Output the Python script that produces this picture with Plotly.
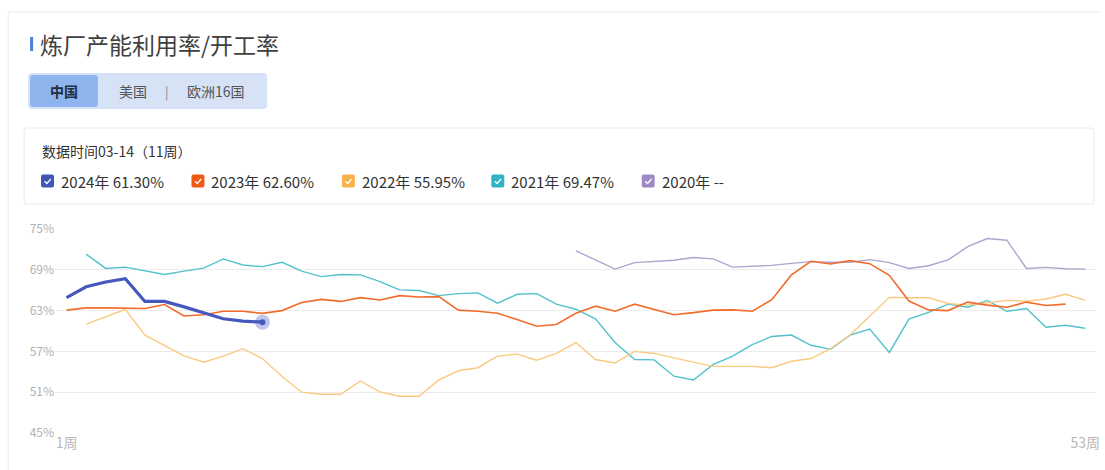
import plotly.graph_objects as go

weeks_all = list(range(1, 54))

y2024 = [64.9, 66.5, 67.2, 67.7, 64.35, 64.35, 63.55, 62.7, 61.8, 61.45, 61.30]

y2023 = [63.07, 63.4, 63.4, 63.4, 63.3, 63.9, 62.2, 62.4, 62.9, 62.9, 62.60,
         63.0, 64.2, 64.65, 64.35, 64.9, 64.55, 65.2, 65.0, 65.05, 63.07,
         62.9, 62.6, 61.7, 60.7, 60.96, 62.6, 63.65, 62.9, 63.95, 63.2,
         62.4, 62.7, 63.07, 63.1, 62.9, 64.6, 68.25, 70.25, 69.85, 70.35,
         69.9, 68.2, 64.4, 63.1, 63.0, 64.25, 63.8, 63.5, 64.25, 63.75, 63.95]

y2022 = [None, 61.0, 62.1, 63.2, 59.4, 57.9, 56.35, 55.4, 56.3, 57.4, 55.95,
         53.3, 51.0, 50.7, 50.7, 52.65, 51.05, 50.4, 50.4, 52.8, 54.15,
         54.6, 56.3, 56.6, 55.7, 56.7, 58.3, 55.8, 55.3, 57.0, 56.7,
         56.05, 55.45, 54.8, 54.8, 54.8, 54.6, 55.55, 55.95, 57.4, 59.4,
         62.2, 64.95, 64.9, 64.9, 64.05, 63.8, 64.15, 64.5, 64.4, 64.7, 65.4, 64.5]

y2021 = [None, 71.3, 69.2, 69.4, 68.8, 68.3, 68.8, 69.25, 70.6, 69.7, 69.47,
         70.1, 68.8, 68.0, 68.3, 68.25, 67.25, 66.05, 65.95, 65.2, 65.5,
         65.6, 64.1, 65.4, 65.5, 63.95, 63.2, 61.8, 58.3, 55.8, 55.75,
         53.35, 52.8, 55.05, 56.3, 58.0, 59.2, 59.4, 57.9, 57.3, 59.4,
         60.3, 56.85, 61.75, 62.75, 63.95, 63.5, 64.5, 62.9, 63.3, 60.55, 60.85, 60.4]

y2020 = [None] * 26 + [71.8, 70.45, 69.1, 70.05, 70.2, 70.4, 70.8, 70.6, 69.4,
                       69.5, 69.65, 69.95, 70.2, 70.1, 70.1, 70.5, 70.05, 69.2,
                       69.6, 70.45, 72.4, 73.6, 73.35, 69.2, 69.35, 69.15, 69.1]

series_names = ["2024年", "2023年", "2022年", "2021年", "2020年"]
legend_values = ["61.30%", "62.60%", "55.95%", "69.47%", "--"]
line_colors = ["#4559bd", "#f26c2c", "#fac97f", "#52c2ca", "#aea4cc"]
box_colors = ["#3f56b6", "#f15a16", "#f8b24c", "#30b3c4", "#9c89c6"]
line_widths = [3.2, 1.6, 1.4, 1.4, 1.4]

y_ticks = [45, 51, 57, 63, 69, 75]
y_tick_text = ["45%", "51%", "57%", "63%", "69%", "75%"]
x_tick_vals = [1, 53]
x_tick_text = ["1周", "53周"]

title_text = "炼厂产能利用率/开工率"
tabs = ["中国", "美国", "欧洲16国"]
data_time_text = "数据时间03-14（11周）"

FONT = "Noto Sans CJK SC, Microsoft YaHei, sans-serif"

W_FIG, H_FIG = 1105, 470
L, R, T, B = 55, 5, 229, 37
PW = W_FIG - L - R
PH = H_FIG - T - B


def px(x):
    return (x - L) / PW


def py(y):
    return (H_FIG - B - y) / PH


fig = go.Figure()

all_series = [y2024, y2023, y2022, y2021, y2020]
draw_order = [4, 3, 2, 1, 0]
for i in draw_order:
    ys = all_series[i]
    fig.add_trace(go.Scatter(
        x=weeks_all[:len(ys)], y=ys, mode="lines",
        line=dict(color=line_colors[i], width=line_widths[i]),
        connectgaps=False, showlegend=False, hoverinfo="skip",
        name=series_names[i]))

# end marker of current year
fig.add_trace(go.Scatter(
    x=[len(y2024)], y=[y2024[-1]], mode="markers",
    marker=dict(size=15, color="rgba(69,89,189,0.35)", line=dict(width=0)),
    showlegend=False, hoverinfo="skip"))
fig.add_trace(go.Scatter(
    x=[len(y2024)], y=[y2024[-1]], mode="markers",
    marker=dict(size=6, color="#4559bd", line=dict(width=0)),
    showlegend=False, hoverinfo="skip"))

shapes = []
annotations = []


def rounded_rect(x0, y0, x1, y1, r, **kw):
    # pixel coords, y downward
    path = (f"M {px(x0 + r)} {py(y0)} L {px(x1 - r)} {py(y0)} "
            f"Q {px(x1)} {py(y0)} {px(x1)} {py(y0 + r)} "
            f"L {px(x1)} {py(y1 - r)} Q {px(x1)} {py(y1)} {px(x1 - r)} {py(y1)} "
            f"L {px(x0 + r)} {py(y1)} Q {px(x0)} {py(y1)} {px(x0)} {py(y1 - r)} "
            f"L {px(x0)} {py(y0 + r)} Q {px(x0)} {py(y0)} {px(x0 + r)} {py(y0)} Z")
    d = dict(type="path", path=path, xref="paper", yref="paper", layer="above")
    d.update(kw)
    return d


# card border
shapes.append(dict(type="line", xref="paper", yref="paper",
                   x0=px(8), x1=px(1105), y0=py(12), y1=py(12),
                   line=dict(color="#ececec", width=1)))
shapes.append(dict(type="line", xref="paper", yref="paper",
                   x0=px(8), x1=px(8), y0=py(12), y1=py(470),
                   line=dict(color="#ececec", width=1)))

# title bar
shapes.append(dict(type="rect", xref="paper", yref="paper",
                   x0=px(30), x1=px(33), y0=py(37), y1=py(51),
                   fillcolor="#4a7fe0", line=dict(width=0)))
annotations.append(dict(text=title_text, xref="paper", yref="paper",
                        x=px(38), y=py(44), xanchor="left", yanchor="middle",
                        showarrow=False,
                        font=dict(family=FONT, size=23, color="#404040")))

# tabs
shapes.append(rounded_rect(28, 73, 268, 109, 4, fillcolor="#d6e2f6",
                           line=dict(width=0)))
shapes.append(rounded_rect(30, 75, 98, 107, 3, fillcolor="#8db4ec",
                           line=dict(width=0)))
annotations.append(dict(text="<b>" + tabs[0] + "</b>", xref="paper", yref="paper",
                        x=px(64), y=py(91), xanchor="center", yanchor="middle",
                        showarrow=False,
                        font=dict(family=FONT, size=14, color="#1f2d44")))
annotations.append(dict(text=tabs[1], xref="paper", yref="paper",
                        x=px(133), y=py(91), xanchor="center", yanchor="middle",
                        showarrow=False,
                        font=dict(family=FONT, size=14, color="#555555")))
annotations.append(dict(text="|", xref="paper", yref="paper",
                        x=px(167), y=py(91), xanchor="center", yanchor="middle",
                        showarrow=False,
                        font=dict(family=FONT, size=13, color="#888888")))
annotations.append(dict(text=tabs[2], xref="paper", yref="paper",
                        x=px(186), y=py(91), xanchor="left", yanchor="middle",
                        showarrow=False,
                        font=dict(family=FONT, size=14, color="#555555")))

# legend box
shapes.append(rounded_rect(24, 128, 1098, 204, 3, fillcolor="rgba(0,0,0,0)",
                           line=dict(color="#ebebeb", width=1)))
annotations.append(dict(text=data_time_text, xref="paper", yref="paper",
                        x=px(40), y=py(151), xanchor="left", yanchor="middle",
                        showarrow=False,
                        font=dict(family=FONT, size=14, color="#333333")))

legend_x = [41, 192, 343, 493, 644]
for i in range(5):
    x0 = legend_x[i]
    y0 = 174.5
    shapes.append(rounded_rect(x0, y0, x0 + 13, y0 + 13, 2,
                               fillcolor=box_colors[i], line=dict(width=0)))
    chk = (f"M {px(x0 + 3.5)} {py(y0 + 6.8)} L {px(x0 + 5.8)} {py(y0 + 9)} "
           f"L {px(x0 + 9.8)} {py(y0 + 4.5)}")
    shapes.append(dict(type="path", path=chk, xref="paper", yref="paper",
                       line=dict(color="white", width=1.3), layer="above"))
    annotations.append(dict(text=series_names[i] + " " + legend_values[i],
                            xref="paper", yref="paper",
                            x=px(x0 + 18), y=py(181), xanchor="left",
                            yanchor="middle", showarrow=False,
                            font=dict(family=FONT, size=15, color="#333333")))

fig.update_layout(
    width=W_FIG, height=H_FIG,
    margin=dict(l=L, r=R, t=T, b=B, pad=0),
    paper_bgcolor="white", plot_bgcolor="white",
    shapes=shapes, annotations=annotations,
    showlegend=False,
    font=dict(family=FONT),
    xaxis=dict(range=[0.41, 53.55], tickvals=x_tick_vals, ticktext=x_tick_text,
               showgrid=False, zeroline=False, showline=False, ticks="",
               tickfont=dict(family=FONT, size=14, color="#b8b8b8"),
               fixedrange=True),
    yaxis=dict(range=[45, 75], tickvals=y_ticks, ticktext=y_tick_text,
               showgrid=True, gridcolor="#ececec", gridwidth=1,
               zeroline=False, showline=False, ticks="",
               tickfont=dict(family=FONT, size=12, color="#b0b0b0"),
               fixedrange=True),
)

fig.write_html("out.html", config={"displayModeBar": False},
               post_script="document.body.style.margin='0';"
                           "document.body.style.overflow='hidden';")
